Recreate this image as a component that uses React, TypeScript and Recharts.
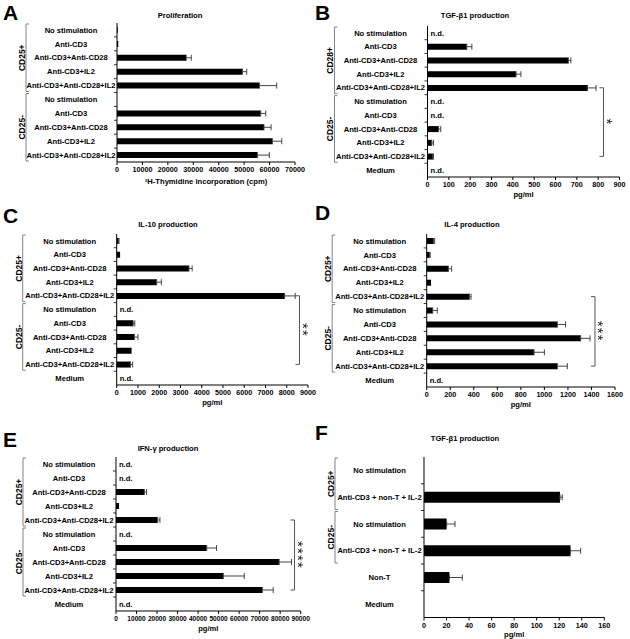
import React from "react";
import { BarChart, Bar, XAxis, YAxis, ErrorBar, ReferenceLine } from "recharts";

const FONT = "'Liberation Sans', Arial, Helvetica, sans-serif";

// row labels
const stimRows = ["No stimulation", "Anti-CD3", "Anti-CD3+Anti-CD28", "Anti-CD3+IL2", "Anti-CD3+Anti-CD28+IL2"];
const prolifRows = [...stimRows, ...stimRows];
const cytokineRows = [...stimRows, ...stimRows, "Medium"];
const coCultureRows = ["No stimulation", "Anti-CD3 + non-T + IL-2", "No stimulation", "Anti-CD3 + non-T + IL-2", "Non-T", "Medium"];

// values (null = n.d.) and SEM (null = none drawn)
const prolifValues = [300, 500, 27200, 49300, 56000, 0, 56500, 57800, 61100, 55200];
const prolifErrors = [null, null, 2000, 1700, 6800, null, 2000, 2800, 3700, 4700];

const tgfValues = [null, 184, 660, 415, 750, null, null, 52, 20, 25, null];
const tgfErrors = [null, 24, 12, 23, 40, null, null, 10, 8, 3, null];

const il10Values = [80, 160, 3400, 1880, 7900, null, 770, 830, 700, 650, null];
const il10Errors = [30, null, 150, 220, 500, null, 80, 170, null, 100, null];

const il4Values = [57, 23, 184, 37, 363, 51, 1110, 1308, 912, 1110, null];
const il4Errors = [11, 7, 28, null, 14, 39, 70, 80, 88, 85, null];

const ifnValues = [null, null, 13800, 1500, 20300, null, 44200, 79500, 52300, 71300, null];
const ifnErrors = [null, null, 1100, null, 1100, null, 4800, 6000, 10200, 5300, null];

const coValues = [0, 120.7, 20.1, 130, 22.5, 0];
const coErrors = [null, 2, 7.4, 9, 11.5, null];

// x ticks
const prolifTicks = [0, 10000, 20000, 30000, 40000, 50000, 60000, 70000];
const tgfTicks = [0, 100, 200, 300, 400, 500, 600, 700, 800, 900];
const il10Ticks = [0, 1000, 2000, 3000, 4000, 5000, 6000, 7000, 8000, 9000];
const il4Ticks = [0, 200, 400, 600, 800, 1000, 1200, 1400, 1600];
const ifnTicks = [0, 10000, 20000, 30000, 40000, 50000, 60000, 70000, 80000, 90000];
const coTicks = [0, 20, 40, 60, 80, 100, 120, 140, 160];

type Group = { label: string; start: number; count: number };
const groupsStd: Group[] = [
  { label: "CD25+", start: 0, count: 5 },
  { label: "CD25-", start: 5, count: 5 },
];
const groupsB: Group[] = [
  { label: "CD28+", start: 0, count: 5 },
  { label: "CD25-", start: 5, count: 5 },
];
const groupsF: Group[] = [
  { label: "CD25+", start: 0, count: 2 },
  { label: "CD25-", start: 2, count: 2 },
];

function RowTick(props: any) {
  const { x, y, payload, rows, notes, groups, band, gap, center } = props;
  const i = Number(String(payload.value).slice(1));
  const axisX = x + 2;
  const g = groups.find((gr: Group) => gr.start === i);
  let bracket = null;
  if (g) {
    const bx = axisX - gap;
    const yA = y - band / 2 + 1;
    const yB = yA + g.count * band - 2;
    const cy = (yA + yB) / 2;
    bracket = (
      <g>
        <path d={`M${bx + 3},${yA} H${bx} V${yB} H${bx + 3}`} stroke="#666" fill="none" strokeWidth={0.8} />
        <text x={bx - 4} y={cy} dy="0.35em" textAnchor="middle" fontSize={8.5} fontWeight="bold" fill="#000"
          transform={`rotate(-90 ${bx - 4} ${cy})`}>
          {g.label}
        </text>
      </g>
    );
  }
  return (
    <g>
      <text x={axisX - center} y={y} dy="0.35em" textAnchor="middle" fontSize={7.6} fontWeight="bold" fill="#000">
        {rows[i]}
      </text>
      {notes[i] && (
        <text x={axisX + 3} y={y} dy="0.35em" textAnchor="start" fontSize={7.6} fontWeight="bold" fill="#000">
          {notes[i]}
        </text>
      )}
      {i > 0 && <line x1={axisX - 3} x2={axisX} y1={y - band / 2} y2={y - band / 2} stroke="#000" strokeWidth={0.8} />}
      {bracket}
    </g>
  );
}

function SigMark(props: any) {
  const { viewBox, stars } = props;
  if (!viewBox) return null;
  const { x, y, height } = viewBox;
  const cx = x + 7;
  const cy = y + height / 2;
  return (
    <g>
      <path d={`M${x - 4},${y} H${x} M${x - 4},${y + height} H${x}`} stroke="#555" fill="none" />
      <text x={cx} y={cy} dy="0.58em" textAnchor="middle" fontSize={15} letterSpacing={1.2} fill="#222"
        style={{ filter: "grayscale(1)" }}
        transform={`rotate(90 ${cx} ${cy})`}>
        {"*".repeat(stars)}
      </text>
    </g>
  );
}

type PanelProps = {
  rows: string[];
  values: (number | null)[];
  errors: (number | null)[];
  ticks: number[];
  axisLabel: string;
  groups: Group[];
  left: number;
  x0: number;
  x1: number;
  y0: number;
  y1: number;
  gap: number;
  center: number;
  barSize: number;
  labelH: number;
  tickFont?: number;
  sig?: { at: number; stars: number };
};

function Panel(p: PanelProps) {
  const data = p.rows.map((r, i) => ({
    id: "r" + i,
    value: p.values[i] ?? 0,
    err: p.errors[i] == null ? null : [0, p.errors[i]],
  }));
  const notes = p.values.map((v) => (v === null ? "n.d." : ""));
  const top = 6;
  const plotH = p.y1 - p.y0;
  const band = plotH / p.rows.length;
  const width = p.x1 - p.left + 16;
  const height = top + plotH + p.labelH + 4;
  return (
    <div style={{ position: "absolute", left: p.left, top: p.y0 - top }}>
      <BarChart
        layout="vertical"
        width={width}
        height={height}
        data={data}
        margin={{ top, right: 16, left: 0, bottom: 4 }}
      >
        <XAxis
          type="number"
          domain={[0, p.ticks[p.ticks.length - 1]]}
          ticks={p.ticks}
          interval={0}
          tickSize={3}
          tickMargin={2}
          stroke="#000"
          height={p.labelH}
          tick={{ fontSize: p.tickFont ?? 7.2, fontWeight: "bold", fill: "#000" }}
          label={{ value: p.axisLabel, position: "insideBottom", offset: 0, fontSize: 7.6, fontWeight: "bold", fill: "#000" }}
        />
        <YAxis
          type="category"
          dataKey="id"
          width={p.x0 - p.left}
          tickSize={0}
          tickMargin={2}
          stroke="#000"
          interval={0}
          tick={(t: any) => (
            <RowTick {...t} rows={p.rows} notes={notes} groups={p.groups} band={band} gap={p.gap} center={p.center} />
          )}
        />
        <Bar dataKey="value" fill="#000" barSize={p.barSize} isAnimationActive={false}>
          <ErrorBar dataKey="err" direction="x" width={3} stroke="#444" strokeWidth={1} />
        </Bar>
        {p.sig && (
          <ReferenceLine
            segment={[
              { x: p.sig.at, y: "r4" },
              { x: p.sig.at, y: "r9" },
            ]}
            stroke="#555"
            label={(lp: any) => <SigMark {...lp} stars={p.sig!.stars} />}
          />
        )}
      </BarChart>
    </div>
  );
}

const titles = [
  { text: "Proliferation", x: 180, y: 15 },
  { text: "TGF-\u03b21 production", x: 475, y: 15 },
  { text: "IL-10 production", x: 168, y: 224 },
  { text: "IL-4 production", x: 472, y: 224 },
  { text: "IFN-\u03b3 production", x: 168, y: 448 },
  { text: "TGF-\u03b21 production", x: 465, y: 438 },
];
const letters = [
  { text: "A", x: 3, y: 20 },
  { text: "B", x: 315, y: 20 },
  { text: "C", x: 3, y: 223 },
  { text: "D", x: 315, y: 220 },
  { text: "E", x: 3, y: 447 },
  { text: "F", x: 315, y: 440 },
];

export default function App() {
  return (
    <div style={{ position: "absolute", left: 0, top: 0, width: 630, height: 639, background: "#fff", fontFamily: FONT }}>
      <Panel rows={prolifRows} values={prolifValues} errors={prolifErrors} ticks={prolifTicks}
        axisLabel={"\u00b3H-Thymidine incorporation (cpm)"} groups={groupsStd}
        left={0} x0={117} x1={295} y0={22.5} y1={161.5} gap={91} center={46} barSize={6} labelH={22} />
      <Panel rows={cytokineRows} values={tgfValues} errors={tgfErrors} ticks={tgfTicks}
        axisLabel="pg/ml" groups={groupsB} sig={{ at: 825, stars: 1 }}
        left={315} x0={427.5} x1={619.5} y0={26} y1={177} gap={93} center={47} barSize={6} labelH={20} />
      <Panel rows={cytokineRows} values={il10Values} errors={il10Errors} ticks={il10Ticks}
        axisLabel="pg/ml" groups={groupsStd} sig={{ at: 8600, stars: 2 }}
        left={0} x0={116.7} x1={308} y0={234} y1={385} gap={94} center={47} barSize={6} labelH={20} />
      <Panel rows={cytokineRows} values={il4Values} errors={il4Errors} ticks={il4Ticks}
        axisLabel="pg/ml" groups={groupsStd} sig={{ at: 1430, stars: 3 }}
        left={315} x0={426.7} x1={615} y0={234} y1={387} gap={94.5} center={47} barSize={6} labelH={20} />
      <Panel rows={cytokineRows} values={ifnValues} errors={ifnErrors} ticks={ifnTicks}
        axisLabel="pg/ml" groups={groupsStd} sig={{ at: 87000, stars: 4 }} tickFont={6.6}
        left={0} x0={116} x1={300.7} y0={457} y1={611} gap={93} center={47} barSize={6} labelH={20} />
      <Panel rows={coCultureRows} values={coValues} errors={coErrors} ticks={coTicks}
        axisLabel="pg/ml" groups={groupsF}
        left={315} x0={424} x1={604.3} y0={457} y1={617.5} gap={89} center={44.5} barSize={11} labelH={20} />
      <svg width={630} height={639} style={{ position: "absolute", left: 0, top: 0, pointerEvents: "none" }}>
        {letters.map((l) => (
          <text key={l.text} x={l.x} y={l.y} fontSize={21} fontWeight="bold" fill="#000">{l.text}</text>
        ))}
        {titles.map((t, i) => (
          <text key={i} x={t.x} y={t.y} dy="0.35em" textAnchor="middle" fontSize={7.6} fontWeight="bold" fill="#000">{t.text}</text>
        ))}
      </svg>
    </div>
  );
}
